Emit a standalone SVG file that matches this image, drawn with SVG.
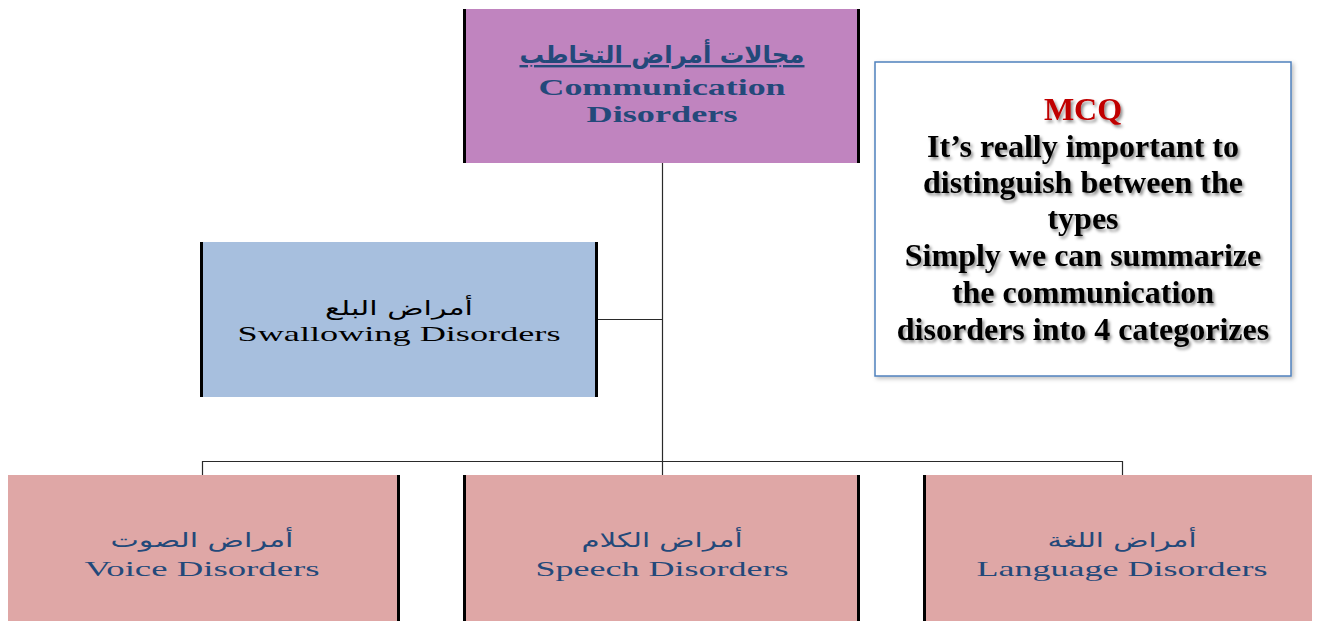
<svg xmlns="http://www.w3.org/2000/svg" width="1318" height="621" viewBox="0 0 1318 621">
<defs>
<style>
.bar{fill:#000}
.conn{stroke:#2a2a2a;stroke-width:1.2;fill:none}
.en{font-family:"Liberation Serif","Times New Roman",serif;text-anchor:middle;fill:#23497a}
.ar{font-family:"DejaVu Sans","Noto Sans",sans-serif;text-anchor:middle;fill:#23497a}
.mcq{font-family:"Liberation Serif","Times New Roman",serif;font-weight:bold;font-size:32px;text-anchor:middle;fill:#000}
</style>
<filter id="ts" x="-10%" y="-30%" width="120%" height="160%">
<feDropShadow dx="2" dy="2.5" stdDeviation="1.6" flood-color="#000" flood-opacity="0.45"/>
</filter>
<filter id="bs" x="-5%" y="-5%" width="110%" height="110%">
<feDropShadow dx="2" dy="2" stdDeviation="2" flood-color="#000" flood-opacity="0.25"/>
</filter>
</defs>
<rect width="1318" height="621" fill="#fff"/>
<g id="connectors">
<line class="conn" x1="662.5" y1="163" x2="662.5" y2="475"/>
<line class="conn" x1="598" y1="319.5" x2="662.5" y2="319.5"/>
<polyline class="conn" points="202.5,475 202.5,461.5 1122.5,461.5 1122.5,475"/>
</g>
<g id="node-communication">
<rect x="463" y="9" width="397" height="154" fill="#c084bf"/>
<rect class="bar" x="463" y="9" width="3" height="154"/>
<rect class="bar" x="857" y="9" width="3" height="154"/>
<text class="ar" x="662" y="63" font-size="24" font-weight="bold" text-decoration="underline" textLength="285" lengthAdjust="spacingAndGlyphs">مجالات أمراض التخاطب</text>
<text class="en" x="662" y="95" font-size="24" font-weight="bold" textLength="247" lengthAdjust="spacingAndGlyphs">Communication</text>
<text class="en" x="662" y="122" font-size="24" font-weight="bold" textLength="151" lengthAdjust="spacingAndGlyphs">Disorders</text>
</g>
<g id="node-swallowing">
<rect x="200" y="242" width="398" height="155" fill="#a7bfde"/>
<rect class="bar" x="200" y="242" width="3" height="155"/>
<rect class="bar" x="595" y="242" width="3" height="155"/>
<text class="ar" x="399" y="315" font-size="20" style="fill:#000" textLength="148" lengthAdjust="spacingAndGlyphs">أمراض البلع</text>
<text class="en" x="399" y="341" font-size="21" style="fill:#000" textLength="323" lengthAdjust="spacingAndGlyphs">Swallowing Disorders</text>
</g>
<g id="node-mcq">
<rect x="875" y="62" width="416" height="314" fill="#fff" stroke="#4f81bd" stroke-width="1.5" filter="url(#bs)"/>
<g filter="url(#ts)">
<text class="mcq" x="1083" y="120" style="fill:#c00000">MCQ</text>
<text class="mcq" x="1083" y="157">It’s really important to</text>
<text class="mcq" x="1083" y="193">distinguish between the</text>
<text class="mcq" x="1083" y="229">types</text>
<text class="mcq" x="1083" y="266">Simply we can summarize</text>
<text class="mcq" x="1083" y="303">the communication</text>
<text class="mcq" x="1083" y="340">disorders into 4 categorizes</text>
</g>
</g>
<g id="node-voice">
<rect x="8" y="475" width="392" height="146" fill="#dfa7a6"/>
<rect class="bar" x="397" y="475" width="3" height="146"/>
<text class="ar" x="202" y="547" font-size="20" textLength="183" lengthAdjust="spacingAndGlyphs">أمراض الصوت</text>
<text class="en" x="202" y="576" font-size="22" textLength="235" lengthAdjust="spacingAndGlyphs">Voice Disorders</text>
</g>
<g id="node-speech">
<rect x="463" y="475" width="397" height="146" fill="#dfa7a6"/>
<rect class="bar" x="463" y="475" width="3" height="146"/>
<rect class="bar" x="857" y="475" width="3" height="146"/>
<text class="ar" x="662" y="547" font-size="20" textLength="161" lengthAdjust="spacingAndGlyphs">أمراض الكلام</text>
<text class="en" x="662" y="576" font-size="22" textLength="253" lengthAdjust="spacingAndGlyphs">Speech Disorders</text>
</g>
<g id="node-language">
<rect x="923" y="475" width="389" height="146" fill="#dfa7a6"/>
<rect class="bar" x="923" y="475" width="3" height="146"/>
<text class="ar" x="1122" y="547" font-size="20" textLength="149" lengthAdjust="spacingAndGlyphs">أمراض اللغة</text>
<text class="en" x="1122" y="576" font-size="22" textLength="291" lengthAdjust="spacingAndGlyphs">Language Disorders</text>
</g>
</svg>
